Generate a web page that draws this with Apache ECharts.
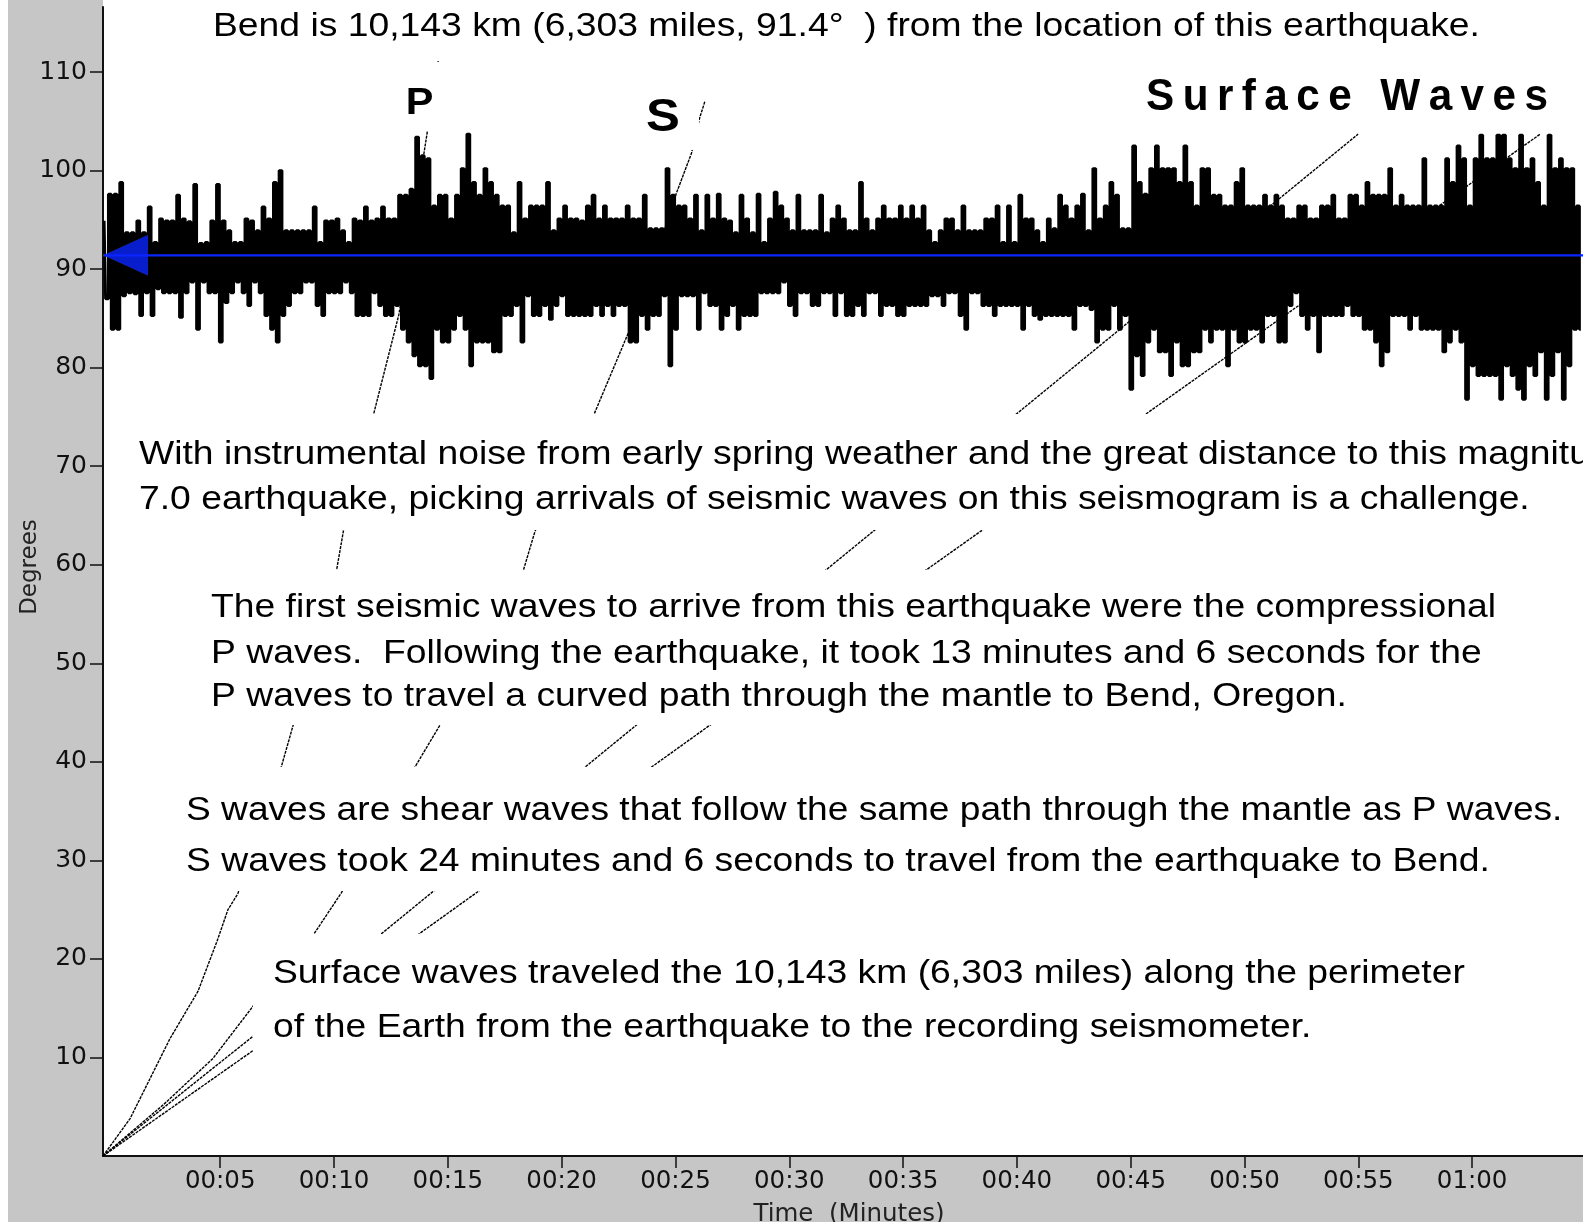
<!DOCTYPE html>
<html>
<head>
<meta charset="utf-8">
<title>Seismogram and travel-time curves, Bend</title>
<script src="https://cdn.jsdelivr.net/npm/echarts@6/dist/echarts.min.js"></script>
<style>
html, body { margin: 0; padding: 0; background: #fff; }
#chart { width: 1583px; height: 1222px; }
</style>
</head>
<body>
<div id="chart"></div>
<script>
// axis ticks
var timeTicks = [5, 10, 15, 20, 25, 30, 35, 40, 45, 50, 55, 60];
var degreeTicks = [10, 20, 30, 40, 50, 60, 70, 80, 90, 100, 110];
var timeMin = -0.15, timeMax = 64.87;
var degMin = 0, degMax = 116.6;

// station distance (degrees) - the seismogram baseline
var stationDistance = 91.4;

// seismogram envelope, one pair per quarter minute
var seisStart = -0.1;
var seisStep = 0.25;
var seisTop = [
  94.9,97.6,97.6,98.8,93.7,93.7,94.9,93.7,96.3,92.7,
  95.1,94.9,94.9,97.5,95.1,94.8,98.6,92.6,92.7,94.9,
  98.6,94.9,93.9,92.7,92.7,95.1,94.9,93.9,96.3,95.1,
  98.8,100.0,93.9,93.9,93.9,93.9,93.9,96.3,92.7,94.9,
  94.9,95.1,93.9,92.7,95.1,94.9,96.3,94.9,95.1,96.3,
  95.1,95.1,
  97.5,97.5,98.1,103.4,101.5,101.2,96.4,97.5,97.5,95.1,
  97.5,100.2,103.7,98.8,97.5,100.2,98.8,97.5,96.4,96.4,
  93.7,98.8,95.1,96.4,96.4,96.4,98.8,93.9,95.1,96.4,
  95.1,95.1,94.9,96.4,97.5,95.1,96.4,95.1,95.1,95.1,
  96.4,95.1,95.1,97.5,94.1,94.1,94.1,100.2,97.5,96.4,
  96.4,95.1,
  97.5,93.9,97.5,95.1,97.6,95.1,94.9,93.7,97.5,95.1,
  93.7,97.6,92.7,95.1,97.8,96.4,95.1,93.9,97.5,93.9,
  93.9,93.9,97.5,93.7,95.1,96.4,95.1,93.9,93.9,98.8,
  95.1,93.9,95.1,96.4,95.1,95.1,96.4,95.1,96.4,95.1,
  96.4,93.9,92.7,93.9,95.1,95.1,93.9,96.4,93.9,93.9,
  93.9,95.1,95.1,
  96.4,92.7,96.4,92.7,97.5,95.1,95.1,93.9,92.7,95.1,
  94.1,97.5,96.4,95.1,96.4,97.6,93.9,100.2,95.1,96.4,
  98.8,97.5,94.1,94.1,102.5,98.8,97.6,100.2,102.5,100.2,
  100.2,100.2,98.8,102.5,98.8,96.4,100.2,100.2,97.5,97.5,
  96.4,96.4,98.8,100.2,96.4,96.4,96.4,97.5,96.4,97.5,
  96.4,95.1,95.1,
  96.4,96.4,95.1,95.1,96.4,96.4,97.5,95.1,95.1,97.5,
  97.5,96.4,98.8,97.5,97.5,97.5,100.2,96.4,97.5,96.4,
  96.4,96.4,101.2,96.4,96.4,96.4,101.2,98.8,102.5,101.2,
  96.4,101.2,103.6,101.2,101.2,103.6,103.6,101.2,100.2,103.6,
  100.2,101.2,98.8,96.4,103.6,100.2,101.2,100.2,100.2,96.4
];
var seisBottom = [
  87.0,83.9,83.9,87.3,87.6,87.5,85.3,87.6,85.3,88.0,
  87.6,87.6,87.6,85.1,87.6,88.7,83.9,88.7,87.6,87.6,
  82.6,86.6,87.6,88.7,87.6,86.3,88.7,87.6,85.3,83.9,
  82.6,85.3,86.3,87.6,87.6,88.7,88.7,86.3,85.3,87.6,
  87.6,87.6,88.7,87.6,85.3,85.3,85.3,87.6,86.3,85.3,
  85.3,86.3,
  83.9,82.6,81.2,80.2,80.2,78.9,83.9,82.6,82.6,83.9,
  85.3,83.9,80.2,82.6,82.6,82.6,81.6,81.6,85.3,85.3,
  86.3,82.6,87.3,85.3,85.3,86.3,84.9,86.3,87.3,85.3,
  85.3,85.3,85.3,85.3,86.3,85.3,86.3,85.3,86.3,86.3,
  82.6,82.6,85.3,83.9,85.3,85.3,87.3,80.2,83.9,87.3,
  87.3,87.3,
  83.9,87.6,86.3,86.3,83.9,85.3,86.3,83.9,85.3,85.3,
  85.3,87.6,87.6,87.6,87.6,88.7,86.3,85.3,87.6,87.6,
  86.3,86.3,87.6,87.6,85.3,87.6,85.3,85.3,86.3,85.3,
  87.6,87.6,85.3,86.3,86.3,85.3,85.3,86.3,86.3,86.3,
  86.3,87.3,87.3,86.3,87.6,87.6,85.3,83.9,87.6,87.6,
  86.3,86.3,85.3,
  86.3,86.3,86.3,86.3,83.9,86.3,85.3,84.9,85.3,85.3,
  85.3,85.3,85.3,83.9,86.3,86.3,85.9,82.6,83.9,83.9,
  86.3,83.9,85.3,77.8,81.2,79.2,82.6,83.9,81.6,81.6,
  79.2,82.6,80.2,80.2,81.6,81.6,83.9,82.6,83.9,83.9,
  80.2,83.9,82.6,82.6,83.9,83.9,82.6,85.3,85.3,82.6,
  82.6,86.3,87.6,
  85.3,83.9,85.3,81.6,85.3,85.3,85.3,85.3,86.3,85.3,
  85.3,83.9,83.9,82.6,80.2,81.6,85.3,85.3,85.3,83.9,
  85.3,83.9,83.9,83.9,83.9,81.6,82.6,83.9,82.6,76.8,
  80.2,79.2,79.2,79.2,79.2,76.8,80.2,79.2,77.8,76.8,
  80.2,79.2,81.6,76.8,79.2,81.6,76.8,80.2,83.9,83.9
];

// travel-time curves [minutes, degrees]
var pCurve = [[-0.15,0],[1.04,3.8],[2.79,11.9],[4.02,16.7],[4.86,21.8],[5.34,25.0],[5.77,26.6],
  [7.66,39.3],[8.19,43.6],[10.10,59.3],[10.41,63.4],[11.73,75.2],[12.85,85.4],[14.58,111.1]];
var sCurve = [[-0.15,0],[2.50,5.2],[4.68,9.9],[6.44,15.2],[9.08,22.4],[10.32,26.7],[13.51,39.3],
  [14.62,43.6],[18.30,59.3],[18.83,63.4],[21.41,75.2],[23.27,85.4],[25.04,97.7],[25.71,101.8],
  [26.07,105.4],[26.29,107.0]];
var surface1 = [[-0.15,0],[12.0,22.4],[33.69,63.4],[54.99,103.7]];
var surface2 = [[-0.15,0],[13.65,22.4],[35.91,59.3],[62.99,103.7]];

var chart = echarts.init(document.getElementById('chart'));

var seisLine = [];
for (var i = 0; i < seisTop.length; i++) {
  var t = seisStart + i * seisStep;
  seisLine.push([t, seisTop[i]]);
  seisLine.push([t + seisStep / 2, seisBottom[i]]);
}

function clock(v) {
  var h = Math.floor(v / 60), m = Math.round(v % 60);
  return (h < 10 ? '0' : '') + h + ':' + (m < 10 ? '0' : '') + m;
}

function txt(text, x, y, size, extra) {
  extra = extra || {};
  return {
    type: 'text', x: x, y: y, z: 51,
    scaleX: extra.scaleX || 1.13,
    rotation: extra.rotation || 0,
    style: {
      text: text,
      fontSize: size,
      fontFamily: extra.family || '"Liberation Sans", Arial, sans-serif',
      fontWeight: extra.weight || 'normal',
      fill: extra.color || '#000',
      textAlign: extra.align || 'left',
      textVerticalAlign: 'middle'
    }
  };
}
function box(x, y, w, h) {
  return { type: 'rect', z: 50, shape: { x: x, y: y, width: w, height: h }, style: { fill: '#fff' } };
}

var curveStyle = { color: '#000', width: 1.4, type: [3, 1] };
var blue = '#0a26ff';

var option = {
  animation: false,
  backgroundColor: '#fff',
  grid: { left: 103, right: 0, top: 7, bottom: 66, show: true, backgroundColor: '#fff', borderWidth: 0 },
  xAxis: {
    type: 'value', min: timeMin, max: timeMax,
    axisLine: { onZero: false, lineStyle: { color: '#111', width: 2 } },
    axisTick: { show: true, length: 12, customValues: timeTicks, lineStyle: { color: '#111', width: 1.5 } },
    axisLabel: { customValues: timeTicks, margin: 13, fontFamily: 'DejaVu Sans', fontSize: 24.5, color: '#111', formatter: clock },
    splitLine: { show: false }
  },
  yAxis: {
    type: 'value', min: degMin, max: degMax,
    axisLine: { show: true, onZero: false, lineStyle: { color: '#111', width: 2 } },
    axisTick: { show: true, length: 13, customValues: degreeTicks, lineStyle: { color: '#111', width: 1.5 } },
    axisLabel: { customValues: degreeTicks, margin: 16, fontFamily: 'DejaVu Sans', fontSize: 25, color: '#111' },
    splitLine: { show: false }
  },
  series: [
    {
      name: 'seismogram', type: 'line', data: seisLine, z: 2,
      showSymbol: false, step: 'middle',
      lineStyle: { color: '#000', width: 2.9 }
    },
    { name: 'P', type: 'line', data: pCurve, z: 3, showSymbol: false, lineStyle: curveStyle },
    { name: 'S', type: 'line', data: sCurve, z: 3, showSymbol: false, lineStyle: curveStyle },
    { name: 'Surface 1', type: 'line', data: surface1, z: 3, showSymbol: false, lineStyle: curveStyle },
    { name: 'Surface 2', type: 'line', data: surface2, z: 3, showSymbol: false, lineStyle: curveStyle },
    {
      name: 'distance', type: 'line', z: 4, showSymbol: false,
      data: [[timeMin, stationDistance], [timeMax, stationDistance]],
      lineStyle: { color: blue, width: 2.2 }
    },
    {
      name: 'arrow', type: 'scatter', z: 5, clip: false,
      data: [[timeMin, stationDistance]],
      symbol: 'path://M0,10L22,0L22,20Z', symbolSize: [45, 41], symbolOffset: [22.5, 0],
      itemStyle: { color: blue }
    }
  ],
  graphic: [
    { type: 'rect', z: -10, shape: { x: 8, y: 0, width: 95, height: 1222 }, style: { fill: '#c6c6c6' } },
    { type: 'rect', z: -10, shape: { x: 8, y: 1156, width: 1575, height: 66 }, style: { fill: '#c6c6c6' } },

    box(398, 62, 44, 69),
    box(630, 78, 69, 72),
    box(128, 414, 1455, 116),
    box(200, 570, 1290, 155),
    box(178, 767, 1405, 124),
    box(253, 934, 1250, 126),

    txt('Bend is 10,143 km (6,303 miles, 91.4°  ) from the location of this earthquake.', 213, 26.5, 33),
    txt('P', 419.5, 104, 37, { weight: 'bold', align: 'center', scaleX: 1.12 }),
    txt('S', 663, 118, 47, { weight: 'bold', align: 'center', scaleX: 1.08 }),
    txt('Surface Waves'.split('').join('\u2009'), 1146, 98, 44, { weight: 'bold', scaleX: 0.96 }),

    txt('With instrumental noise from early spring weather and the great distance to this magnitude', 139, 454.5, 33),
    txt('7.0 earthquake, picking arrivals of seismic waves on this seismogram is a challenge.', 139, 499.5, 33),

    txt('The first seismic waves to arrive from this earthquake were the compressional', 211, 608, 33),
    txt('P waves.  Following the earthquake, it took 13 minutes and 6 seconds for the', 211, 654, 33),
    txt('P waves to travel a curved path through the mantle to Bend, Oregon.', 211, 697, 33),

    txt('S waves are shear waves that follow the same path through the mantle as P waves.', 186, 811, 33, { scaleX: 1.125 }),
    txt('S waves took 24 minutes and 6 seconds to travel from the earthquake to Bend.', 186, 862, 33),

    txt('Surface waves traveled the 10,143 km (6,303 miles) along the perimeter', 273, 974, 33),
    txt('of the Earth from the earthquake to the recording seismometer.', 273, 1027.5, 33),

    txt('Degrees', 30, 567, 23, { family: 'DejaVu Sans', color: '#222', align: 'center', rotation: Math.PI / 2, scaleX: 1 }),
    txt('Time  (Minutes)', 849, 1215, 24.5, { family: 'DejaVu Sans', color: '#222', align: 'center', scaleX: 1 })
  ]
};

chart.setOption(option);
</script>
</body>
</html>
